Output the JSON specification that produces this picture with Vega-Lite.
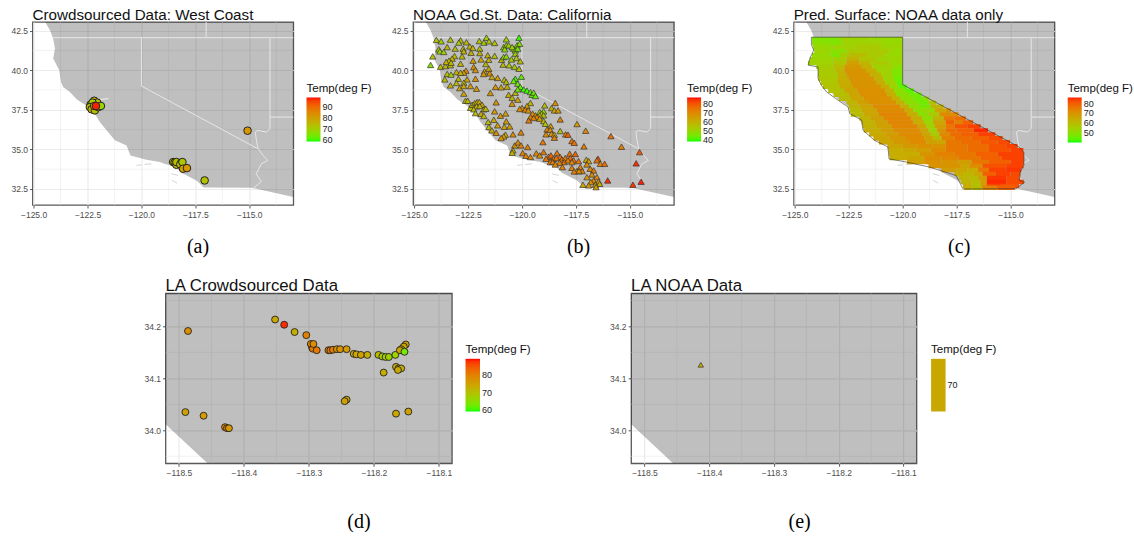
{
"$schema":"https://vega.github.io/schema/vega-lite/v6.json",
"padding":{"left":9.5,"top":7,"right":0,"bottom":0},
"background":"white",
"bounds":"flush",
"spacing":271.3,
"config":{
"font":"Liberation Sans",
"view":{"stroke":"#595959","strokeWidth":1.3},
"title":{"anchor":"start","frame":"group","font":"Liberation Sans","fontSize":15.2,"fontWeight":"normal","color":"#111111","offset":-1},
"axis":{"domain":false,"grid":true,"gridColor":"#EBEBEB","gridWidth":1.2,"tickColor":"#333333","tickSize":3,"tickWidth":0.8,"labelFont":"Liberation Sans","labelFontSize":8.5,"labelColor":"#4D4D4D","labelOverlap":false,"labelFlush":false,"labelPadding":2,"titleFont":"Liberation Serif","titleFontSize":20,"titleFontWeight":"normal","titleColor":"#000000","titleBaseline":"middle","titleAlign":"center"},
"legend":{"titleFont":"Liberation Sans","titleFontSize":11.5,"titleFontWeight":"normal","titleColor":"#111111","titlePadding":3,"labelFont":"Liberation Sans","labelFontSize":9,"labelColor":"#222222","labelOverlap":false,"padding":0,"gradientStrokeWidth":0,"labelOffset":8}
},
"datasets":{
"minorXW":[{"lon":-123.75},{"lon":-121.25},{"lon":-118.75},{"lon":-116.25},{"lon":-113.75}],
"minorYW":[{"lat":33.75},{"lat":36.25},{"lat":38.75},{"lat":41.25}],
"minorXL":[{"lon":-118.45},{"lon":-118.35},{"lon":-118.25},{"lon":-118.15}],
"minorYL":[{"lat":34.25},{"lat":34.15},{"lat":34.05},{"lat":33.95}],
"coast":[{"lon":-124.48,"lat":43.4},{"lon":-124.48,"lat":43.08},{"lon":-124.24,"lat":42.52},{"lon":-124.09,"lat":41.99},{"lon":-124.01,"lat":41.36},{"lon":-124.09,"lat":40.73},{"lon":-123.81,"lat":39.99},{"lon":-123.73,"lat":39.25},{"lon":-123.63,"lat":38.94},{"lon":-123.32,"lat":38.62},{"lon":-122.98,"lat":38.14},{"lon":-122.58,"lat":37.78},{"lon":-122.31,"lat":37.46},{"lon":-122.16,"lat":37.25},{"lon":-121.93,"lat":36.73},{"lon":-121.62,"lat":36.2},{"lon":-121.23,"lat":35.57},{"lon":-120.69,"lat":35.25},{"lon":-120.51,"lat":34.62},{"lon":-119.77,"lat":34.35},{"lon":-119.15,"lat":34.2},{"lon":-118.84,"lat":34.05},{"lon":-118.52,"lat":34.011},{"lon":-118.456,"lat":33.9365},{"lon":-118.15,"lat":33.53},{"lon":-117.45,"lat":33.04},{"lon":-117.11,"lat":32.6},{"lon":-114.91,"lat":32.58},{"lon":-112.96,"lat":31.99},{"lon":-112.5,"lat":31.9}],
"borders":[
{"s":1,"o":1,"lon":-124.09,"lat":42.05},{"s":1,"o":2,"lon":-112.5,"lat":42.05},
{"s":2,"o":1,"lon":-117,"lat":43.2},{"s":2,"o":2,"lon":-117,"lat":42.05},
{"s":3,"o":1,"lon":-120,"lat":42.05},{"s":3,"o":2,"lon":-120,"lat":39},{"s":3,"o":3,"lon":-114.62,"lat":35.05},
{"s":4,"o":1,"lon":-114.04,"lat":42.05},{"s":4,"o":2,"lon":-114.04,"lat":36.31},
{"s":5,"o":1,"lon":-114.04,"lat":37.04},{"s":5,"o":2,"lon":-112.5,"lat":37.04},
{"s":6,"o":1,"lon":-114.04,"lat":36.31},{"s":6,"o":2,"lon":-114.21,"lat":36.09},{"s":6,"o":3,"lon":-114.6,"lat":36.2},{"s":6,"o":4,"lon":-114.72,"lat":36.09},{"s":6,"o":5,"lon":-114.68,"lat":35.67},{"s":6,"o":6,"lon":-114.6,"lat":35.08},{"s":6,"o":7,"lon":-114.37,"lat":34.62},{"s":6,"o":8,"lon":-114.14,"lat":34.31},{"s":6,"o":9,"lon":-114.44,"lat":34.09},{"s":6,"o":10,"lon":-114.68,"lat":33.46},{"s":6,"o":11,"lon":-114.44,"lat":32.98},{"s":6,"o":12,"lon":-114.83,"lat":32.52}],
"islands":[
{"s":1,"o":1,"lon":-120.23,"lat":33.99},{"s":1,"o":2,"lon":-120,"lat":34.03},
{"s":2,"o":1,"lon":-119.85,"lat":34.05},{"s":2,"o":2,"lon":-119.54,"lat":34.09},
{"s":3,"o":1,"lon":-118.61,"lat":33.46},{"s":3,"o":2,"lon":-118.3,"lat":33.36},
{"s":4,"o":1,"lon":-118.58,"lat":33.04},{"s":4,"o":2,"lon":-118.35,"lat":32.87}],
"bay":[{"o":1,"lon":-122,"lat":38.14},{"o":2,"lon":-121.54,"lat":38.2}],
"caOutline":[{"o":1,"lon":-124.23,"lat":42.08},{"o":2,"lon":-120,"lat":42.08},{"o":3,"lon":-120,"lat":39.09},{"o":4,"lon":-114.6,"lat":35.15},{"o":5,"lon":-114.38,"lat":34.8},{"o":6,"lon":-114.38,"lat":34},{"o":7,"lon":-114.55,"lat":33.57},{"o":8,"lon":-114.58,"lat":33.04},{"o":9,"lon":-114.35,"lat":32.93},{"o":10,"lon":-114.74,"lat":32.52},{"o":11,"lon":-117.2,"lat":32.5},{"o":12,"lon":-117.52,"lat":33.35},{"o":13,"lon":-118.75,"lat":33.88},{"o":14,"lon":-119.83,"lat":34.2},{"o":15,"lon":-120.63,"lat":34.4},{"o":16,"lon":-120.68,"lat":35.15},{"o":17,"lon":-121.3,"lat":35.57},{"o":18,"lon":-121.83,"lat":36.2},{"o":19,"lon":-121.9,"lat":36.85},{"o":20,"lon":-122.45,"lat":37.26},{"o":21,"lon":-122.53,"lat":37.68},{"o":22,"lon":-122.99,"lat":38.1},{"o":23,"lon":-123.53,"lat":38.63},{"o":24,"lon":-123.77,"lat":39.05},{"o":25,"lon":-123.92,"lat":39.47},{"o":26,"lon":-123.92,"lat":40.2},{"o":27,"lon":-124.38,"lat":40.32},{"o":28,"lon":-124.3,"lat":40.74},{"o":29,"lon":-124.12,"lat":41.27},{"o":30,"lon":-124.23,"lat":41.6},{"o":31,"lon":-124.23,"lat":42.08}],
"crowdWest":[{"lon":-122.19,"lat":38.07,"t":76},{"lon":-122.05,"lat":37.95,"t":74},{"lon":-122.36,"lat":37.82,"t":74},{"lon":-122.27,"lat":37.95,"t":72},{"lon":-122.39,"lat":37.67,"t":74},{"lon":-122.31,"lat":37.53,"t":76},{"lon":-122.16,"lat":37.46,"t":74},{"lon":-122.19,"lat":37.74,"t":74},{"lon":-122,"lat":37.67,"t":74},{"lon":-121.88,"lat":37.74,"t":68},{"lon":-122.11,"lat":37.74,"t":98},{"lon":-118.53,"lat":34.2,"t":75},{"lon":-118.46,"lat":34.16,"t":76},{"lon":-118.38,"lat":34.03,"t":76},{"lon":-118.38,"lat":34.2,"t":74},{"lon":-118.15,"lat":34.16,"t":73},{"lon":-118.2,"lat":34.05,"t":74},{"lon":-118.1,"lat":34.2,"t":72},{"lon":-118.07,"lat":33.78,"t":80},{"lon":-117.89,"lat":33.82,"t":82},{"lon":-117.07,"lat":33.04,"t":73},{"lon":-115.08,"lat":36.18,"t":82}],
"noaaCA":[{"lon":-123.97,"lat":41.91,"t":55},{"lon":-123.75,"lat":41.82,"t":52},{"lon":-123.32,"lat":41.93,"t":55},{"lon":-122.85,"lat":41.88,"t":57},{"lon":-122.93,"lat":41.74,"t":55},{"lon":-122.58,"lat":41.76,"t":58},{"lon":-121.98,"lat":41.84,"t":55},{"lon":-121.65,"lat":42.05,"t":52},{"lon":-121.77,"lat":41.74,"t":53},{"lon":-121.53,"lat":41.82,"t":55},{"lon":-121.27,"lat":41.72,"t":55},{"lon":-120.73,"lat":41.95,"t":52},{"lon":-120.14,"lat":42.05,"t":40},
{"lon":-123.86,"lat":41.32,"t":55},{"lon":-123.81,"lat":41.19,"t":50},{"lon":-123.47,"lat":41.46,"t":58},{"lon":-123.63,"lat":41.15,"t":52},{"lon":-123.1,"lat":41.36,"t":57},{"lon":-122.73,"lat":41.36,"t":58},{"lon":-122.42,"lat":41.5,"t":60},{"lon":-122.28,"lat":41.4,"t":58},{"lon":-121.96,"lat":41.36,"t":56},{"lon":-122.7,"lat":41.19,"t":60},{"lon":-122.36,"lat":41.1,"t":60},{"lon":-121.96,"lat":41.08,"t":60},{"lon":-121.59,"lat":40.94,"t":60},{"lon":-121.27,"lat":40.9,"t":55},{"lon":-120.85,"lat":41.46,"t":50},{"lon":-120.73,"lat":41.57,"t":50},{"lon":-120.8,"lat":41.32,"t":48},{"lon":-120.62,"lat":41.57,"t":52},{"lon":-120.39,"lat":41.36,"t":52},{"lon":-120.23,"lat":41.57,"t":50},{"lon":-120.11,"lat":41.67,"t":48},{"lon":-120.46,"lat":41.46,"t":50},{"lon":-120.31,"lat":41.25,"t":48},{"lon":-120.2,"lat":41.36,"t":45},{"lon":-120.31,"lat":41.04,"t":52},
{"lon":-124.14,"lat":40.87,"t":55},{"lon":-124.24,"lat":40.33,"t":48},{"lon":-123.78,"lat":40.22,"t":57},{"lon":-123.55,"lat":40.26,"t":58},{"lon":-123.32,"lat":40.31,"t":57},{"lon":-123.13,"lat":40.89,"t":57},{"lon":-123.24,"lat":40.73,"t":60},{"lon":-123.39,"lat":40.6,"t":58},{"lon":-123.52,"lat":40.52,"t":60},{"lon":-123.29,"lat":40.47,"t":58},{"lon":-122.85,"lat":40.41,"t":60},{"lon":-122.78,"lat":40.87,"t":58},{"lon":-122.27,"lat":40.6,"t":66},{"lon":-121.9,"lat":40.68,"t":62},{"lon":-121.54,"lat":40.66,"t":60},{"lon":-121.68,"lat":40.39,"t":58},{"lon":-120.95,"lat":40.66,"t":58},{"lon":-120.85,"lat":40.83,"t":50},{"lon":-120.73,"lat":40.87,"t":48},{"lon":-120.49,"lat":40.68,"t":52},{"lon":-120.26,"lat":40.77,"t":55},{"lon":-120.08,"lat":40.56,"t":57},{"lon":-120.88,"lat":40.35,"t":58},{"lon":-120.6,"lat":40.31,"t":55},{"lon":-120.35,"lat":40.22,"t":52},{"lon":-120.14,"lat":40.09,"t":57},
{"lon":-122.24,"lat":40.2,"t":68},{"lon":-122.16,"lat":40.01,"t":68},{"lon":-122.6,"lat":39.97,"t":70},{"lon":-122.7,"lat":39.84,"t":66},{"lon":-121.74,"lat":39.93,"t":65},{"lon":-121.54,"lat":40.09,"t":62},{"lon":-121.78,"lat":39.76,"t":66},{"lon":-121.5,"lat":39.8,"t":68},
{"lon":-123.47,"lat":39.76,"t":57},{"lon":-123.29,"lat":39.72,"t":52},{"lon":-123.04,"lat":39.88,"t":60},{"lon":-122.85,"lat":39.84,"t":60},{"lon":-123.58,"lat":39.42,"t":57},{"lon":-122.95,"lat":39.46,"t":58},{"lon":-122.55,"lat":39.42,"t":62},{"lon":-122.16,"lat":39.46,"t":68},{"lon":-121.13,"lat":39.51,"t":65},{"lon":-121.39,"lat":39.57,"t":62},{"lon":-120.82,"lat":39.4,"t":58},{"lon":-120.73,"lat":39.25,"t":56},{"lon":-120.03,"lat":39.59,"t":43},{"lon":-120.31,"lat":39.46,"t":40},{"lon":-120.39,"lat":39.32,"t":44},
{"lon":-123.32,"lat":39.04,"t":60},{"lon":-123.04,"lat":39.19,"t":58},{"lon":-122.7,"lat":39.21,"t":60},{"lon":-122.89,"lat":38.87,"t":63},{"lon":-122.7,"lat":39,"t":62},{"lon":-122.39,"lat":39,"t":65},{"lon":-122.11,"lat":38.83,"t":67},{"lon":-122.7,"lat":38.52,"t":62},{"lon":-121.47,"lat":38.56,"t":67},{"lon":-121.23,"lat":38.94,"t":68},{"lon":-120.97,"lat":38.92,"t":64},{"lon":-120.69,"lat":38.96,"t":60},{"lon":-120.2,"lat":39.15,"t":44},{"lon":-120.08,"lat":38.94,"t":42},{"lon":-119.92,"lat":38.79,"t":40},{"lon":-119.77,"lat":38.71,"t":40},{"lon":-119.61,"lat":38.62,"t":42},{"lon":-119.54,"lat":38.45,"t":44},{"lon":-119.46,"lat":38.58,"t":45},{"lon":-119.38,"lat":38.37,"t":42},{"lon":-120.62,"lat":38.45,"t":62},{"lon":-120.31,"lat":38.58,"t":58},{"lon":-120.2,"lat":38.79,"t":45},{"lon":-120.46,"lat":38.26,"t":60},
{"lon":-122.62,"lat":38.07,"t":56},{"lon":-122.52,"lat":38.07,"t":58},{"lon":-122.39,"lat":37.63,"t":55},{"lon":-122.31,"lat":37.82,"t":60},{"lon":-122.19,"lat":37.93,"t":60},{"lon":-122.08,"lat":37.99,"t":58},{"lon":-121.98,"lat":37.99,"t":62},{"lon":-121.85,"lat":37.82,"t":62},{"lon":-122.11,"lat":37.72,"t":60},{"lon":-121.96,"lat":37.74,"t":60},{"lon":-121.77,"lat":37.53,"t":60},{"lon":-121.68,"lat":37.57,"t":58},{"lon":-122.24,"lat":37.53,"t":58},{"lon":-122.16,"lat":37.29,"t":58},{"lon":-121.9,"lat":37.25,"t":62},{"lon":-121.77,"lat":37.11,"t":58},{"lon":-121.27,"lat":37.4,"t":66},{"lon":-121,"lat":37.13,"t":68},{"lon":-120.76,"lat":37.27,"t":65},{"lon":-121.2,"lat":37.97,"t":68},{"lon":-120.46,"lat":37.88,"t":68},{"lon":-120.2,"lat":38.14,"t":63},{"lon":-119.61,"lat":37.93,"t":58},{"lon":-119.77,"lat":37.74,"t":65},{"lon":-120,"lat":37.61,"t":68},{"lon":-119.85,"lat":37.51,"t":72},{"lon":-120.11,"lat":37.55,"t":70},{"lon":-119.71,"lat":37.46,"t":68},{"lon":-118.95,"lat":37.78,"t":56},{"lon":-118.46,"lat":37.93,"t":70},{"lon":-118.63,"lat":37.61,"t":60},{"lon":-118.5,"lat":37.46,"t":62},{"lon":-118.33,"lat":37.46,"t":66},
{"lon":-119.51,"lat":37.25,"t":68},{"lon":-119.38,"lat":37.15,"t":70},{"lon":-119.61,"lat":37.04,"t":70},{"lon":-119.69,"lat":36.83,"t":74},{"lon":-119.18,"lat":37.36,"t":52},{"lon":-119,"lat":37.4,"t":50},{"lon":-119.1,"lat":37.25,"t":52},{"lon":-119,"lat":37.15,"t":55},{"lon":-119.18,"lat":37.15,"t":62},{"lon":-119.31,"lat":37.04,"t":72},{"lon":-119.46,"lat":36.98,"t":72},{"lon":-119.18,"lat":36.94,"t":65},{"lon":-119,"lat":36.79,"t":58},{"lon":-118.92,"lat":36.62,"t":55},{"lon":-118.23,"lat":36.89,"t":72},{"lon":-117.45,"lat":36.6,"t":66},
{"lon":-121.57,"lat":36.73,"t":57},{"lon":-121.54,"lat":36.41,"t":58},{"lon":-121.13,"lat":36.52,"t":65},{"lon":-120.82,"lat":36.43,"t":63},{"lon":-120.57,"lat":36.45,"t":66},{"lon":-120.73,"lat":36.77,"t":66},{"lon":-121.31,"lat":36.87,"t":62},{"lon":-121.4,"lat":36.2,"t":60},{"lon":-121.2,"lat":36.05,"t":70},{"lon":-120.77,"lat":35.93,"t":62},{"lon":-120.85,"lat":35.82,"t":66},{"lon":-120.42,"lat":35.95,"t":70},{"lon":-120.05,"lat":36.07,"t":72},{"lon":-120.97,"lat":35.72,"t":68},{"lon":-118.67,"lat":36.47,"t":66},{"lon":-118.84,"lat":36.26,"t":70},{"lon":-118.69,"lat":36.24,"t":70},{"lon":-118.89,"lat":35.95,"t":70},{"lon":-118.63,"lat":35.99,"t":68},{"lon":-118.5,"lat":35.93,"t":62},{"lon":-118.5,"lat":35.74,"t":72},{"lon":-118.23,"lat":36.16,"t":55},{"lon":-117.98,"lat":35.95,"t":74},{"lon":-117.87,"lat":35.93,"t":78},{"lon":-117.05,"lat":36.18,"t":70},{"lon":-115.88,"lat":35.84,"t":76},{"lon":-115.39,"lat":35.17,"t":72},{"lon":-114.55,"lat":34.83,"t":80},{"lon":-119.03,"lat":35.46,"t":74},{"lon":-117.69,"lat":35.53,"t":75},{"lon":-117.58,"lat":35.42,"t":75},{"lon":-117.13,"lat":35.19,"t":73},
{"lon":-120.34,"lat":35.25,"t":68},{"lon":-120.19,"lat":35.44,"t":70},{"lon":-120.05,"lat":35.25,"t":72},{"lon":-119.74,"lat":35.15,"t":72},{"lon":-120.42,"lat":34.94,"t":60},{"lon":-120.46,"lat":34.79,"t":60},{"lon":-119.97,"lat":34.77,"t":72},{"lon":-119.82,"lat":34.6,"t":72},{"lon":-119.61,"lat":34.52,"t":70},{"lon":-119.34,"lat":34.75,"t":70},{"lon":-119.18,"lat":34.62,"t":68},{"lon":-119,"lat":34.83,"t":74},
{"lon":-118.77,"lat":34.54,"t":74},{"lon":-118.66,"lat":34.62,"t":78},{"lon":-118.53,"lat":34.41,"t":72},{"lon":-118.89,"lat":34.41,"t":74},{"lon":-118.69,"lat":34.2,"t":72},{"lon":-118.58,"lat":34.2,"t":74},{"lon":-118.38,"lat":34.77,"t":74},{"lon":-118.23,"lat":34.52,"t":76},{"lon":-118.41,"lat":34.45,"t":74},{"lon":-118.15,"lat":34.37,"t":74},{"lon":-118,"lat":34.45,"t":73},{"lon":-118.04,"lat":34.2,"t":76},{"lon":-118.26,"lat":34.16,"t":72},{"lon":-118.46,"lat":34.05,"t":70},{"lon":-118.13,"lat":33.88,"t":72},{"lon":-117.79,"lat":34.73,"t":74},{"lon":-117.53,"lat":34.71,"t":78},{"lon":-117.76,"lat":34.45,"t":76},{"lon":-117.61,"lat":34.31,"t":76},{"lon":-117.87,"lat":34.31,"t":72},{"lon":-117.69,"lat":34.2,"t":70},{"lon":-117.38,"lat":34.26,"t":74},{"lon":-117.69,"lat":33.84,"t":72},{"lon":-117.45,"lat":33.63,"t":70},{"lon":-117.58,"lat":33.61,"t":72},{"lon":-117.3,"lat":33.88,"t":72},{"lon":-117.21,"lat":33.63,"t":72},{"lon":-117.36,"lat":33.63,"t":70},{"lon":-117.02,"lat":34.35,"t":62},{"lon":-116.91,"lat":34.26,"t":65},{"lon":-116.48,"lat":34.41,"t":80},{"lon":-116.53,"lat":34.31,"t":74},{"lon":-116.37,"lat":34.09,"t":72},{"lon":-116.17,"lat":34.09,"t":76},{"lon":-116.99,"lat":34.05,"t":68},{"lon":-116.84,"lat":33.78,"t":70},{"lon":-116.68,"lat":33.67,"t":72},{"lon":-116.76,"lat":33.42,"t":70},{"lon":-116.99,"lat":33.25,"t":66},{"lon":-116.53,"lat":33.25,"t":70},{"lon":-116.68,"lat":33.04,"t":72},{"lon":-116.45,"lat":32.98,"t":68},{"lon":-116.81,"lat":32.94,"t":68},{"lon":-116.4,"lat":32.83,"t":60},{"lon":-116.6,"lat":32.77,"t":65},{"lon":-116.91,"lat":32.73,"t":66},{"lon":-117.18,"lat":32.77,"t":62},{"lon":-116.57,"lat":32.62,"t":66},{"lon":-116.03,"lat":33.04,"t":85},{"lon":-114.86,"lat":32.77,"t":84},{"lon":-114.48,"lat":32.96,"t":86},{"lon":-114.71,"lat":34.12,"t":85}],
"surface":[
{"a":-124.2,"b":-122.9,"lat":41.95,"t":48},{"a":-122.9,"b":-121.5,"lat":41.95,"t":53},{"a":-121.5,"b":-120,"lat":41.95,"t":52},
{"a":-124.2,"b":-123.4,"lat":41.7,"t":50},{"a":-123.4,"b":-122.8,"lat":41.7,"t":49},{"a":-122.8,"b":-121,"lat":41.7,"t":54},{"a":-121,"b":-120,"lat":41.7,"t":52},
{"a":-124.15,"b":-123.2,"lat":41.45,"t":52},{"a":-123.2,"b":-122.2,"lat":41.45,"t":54},{"a":-122.2,"b":-121,"lat":41.45,"t":56},{"a":-121,"b":-120,"lat":41.45,"t":53},
{"a":-124.1,"b":-123.4,"lat":41.2,"t":53},{"a":-123.4,"b":-122.6,"lat":41.2,"t":50},{"a":-122.6,"b":-120.6,"lat":41.2,"t":56},{"a":-120.6,"b":-120,"lat":41.2,"t":52},
{"a":-124.2,"b":-123.3,"lat":40.95,"t":52},{"a":-123.3,"b":-122.9,"lat":40.95,"t":48},{"a":-122.9,"b":-122.5,"lat":40.95,"t":55},{"a":-122.5,"b":-121.7,"lat":40.95,"t":60},{"a":-121.7,"b":-120.8,"lat":40.95,"t":56},{"a":-120.8,"b":-120,"lat":40.95,"t":52},
{"a":-124.3,"b":-123.2,"lat":40.7,"t":53},{"a":-123.2,"b":-122.6,"lat":40.7,"t":55},{"a":-122.6,"b":-122,"lat":40.7,"t":63},{"a":-122,"b":-121.2,"lat":40.7,"t":57},{"a":-121.2,"b":-120,"lat":40.7,"t":53},
{"a":-124.38,"b":-123.2,"lat":40.45,"t":54},{"a":-123.2,"b":-122.6,"lat":40.45,"t":57},{"a":-122.6,"b":-122,"lat":40.45,"t":67},{"a":-122,"b":-121.5,"lat":40.45,"t":62},{"a":-121.5,"b":-120.6,"lat":40.45,"t":56},{"a":-120.6,"b":-120,"lat":40.45,"t":52},
{"a":-124,"b":-123.2,"lat":40.2,"t":55},{"a":-123.2,"b":-122.7,"lat":40.2,"t":60},{"a":-122.7,"b":-121.9,"lat":40.2,"t":69},{"a":-121.9,"b":-121.4,"lat":40.2,"t":63},{"a":-121.4,"b":-120.4,"lat":40.2,"t":54},{"a":-120.4,"b":-120,"lat":40.2,"t":50},
{"a":-123.92,"b":-123.1,"lat":39.95,"t":56},{"a":-123.1,"b":-122.7,"lat":39.95,"t":62},{"a":-122.7,"b":-121.7,"lat":39.95,"t":70},{"a":-121.7,"b":-121.2,"lat":39.95,"t":64},{"a":-121.2,"b":-120.5,"lat":39.95,"t":54},{"a":-120.5,"b":-120,"lat":39.95,"t":48},
{"a":-123.92,"b":-123,"lat":39.7,"t":56},{"a":-123,"b":-122.6,"lat":39.7,"t":63},{"a":-122.6,"b":-121.5,"lat":39.7,"t":70},{"a":-121.5,"b":-121,"lat":39.7,"t":63},{"a":-121,"b":-120.5,"lat":39.7,"t":54},{"a":-120.5,"b":-120,"lat":39.7,"t":48},
{"a":-123.9,"b":-123,"lat":39.45,"t":57},{"a":-123,"b":-122.5,"lat":39.45,"t":64},{"a":-122.5,"b":-121.3,"lat":39.45,"t":70},{"a":-121.3,"b":-120.9,"lat":39.45,"t":63},{"a":-120.9,"b":-120.4,"lat":39.45,"t":53},{"a":-120.4,"b":-120,"lat":39.45,"t":46},
{"a":-123.8,"b":-123,"lat":39.2,"t":57},{"a":-123,"b":-122.4,"lat":39.2,"t":64},{"a":-122.4,"b":-121.2,"lat":39.2,"t":70},{"a":-121.2,"b":-120.8,"lat":39.2,"t":64},{"a":-120.8,"b":-120.3,"lat":39.2,"t":54},{"a":-120.3,"b":-120,"lat":39.2,"t":45},
{"a":-123.7,"b":-122.9,"lat":38.95,"t":58},{"a":-122.9,"b":-122.3,"lat":38.95,"t":65},{"a":-122.3,"b":-121,"lat":38.95,"t":70},{"a":-121,"b":-120.6,"lat":38.95,"t":64},{"a":-120.6,"b":-120.2,"lat":38.95,"t":52},{"a":-120.2,"b":-119.8,"lat":38.95,"t":44},
{"a":-123.45,"b":-122.7,"lat":38.7,"t":58},{"a":-122.7,"b":-122.1,"lat":38.7,"t":66},{"a":-122.1,"b":-120.8,"lat":38.7,"t":71},{"a":-120.8,"b":-120.4,"lat":38.7,"t":63},{"a":-120.4,"b":-119.9,"lat":38.7,"t":50},{"a":-119.9,"b":-119.47,"lat":38.7,"t":44},
{"a":-123.2,"b":-122.5,"lat":38.45,"t":59},{"a":-122.5,"b":-122,"lat":38.45,"t":66},{"a":-122,"b":-120.7,"lat":38.45,"t":71},{"a":-120.7,"b":-120.3,"lat":38.45,"t":63},{"a":-120.3,"b":-119.7,"lat":38.45,"t":50},{"a":-119.7,"b":-119.12,"lat":38.45,"t":46},
{"a":-122.95,"b":-122.4,"lat":38.2,"t":60},{"a":-122.4,"b":-121.8,"lat":38.2,"t":66},{"a":-121.8,"b":-120.5,"lat":38.2,"t":71},{"a":-120.5,"b":-120.1,"lat":38.2,"t":63},{"a":-120.1,"b":-119.5,"lat":38.2,"t":50},{"a":-119.5,"b":-119,"lat":38.2,"t":46},{"a":-119,"b":-118.78,"lat":38.2,"t":52},
{"a":-122.6,"b":-122.1,"lat":37.95,"t":62},{"a":-122.1,"b":-121.6,"lat":37.95,"t":67},{"a":-121.6,"b":-120.3,"lat":37.95,"t":71},{"a":-120.3,"b":-119.9,"lat":37.95,"t":63},{"a":-119.9,"b":-119.3,"lat":37.95,"t":50},{"a":-119.3,"b":-118.8,"lat":37.95,"t":46},{"a":-118.8,"b":-118.44,"lat":37.95,"t":58},
{"a":-122.5,"b":-122,"lat":37.7,"t":62},{"a":-122,"b":-121.4,"lat":37.7,"t":66},{"a":-121.4,"b":-120.1,"lat":37.7,"t":72},{"a":-120.1,"b":-119.7,"lat":37.7,"t":63},{"a":-119.7,"b":-119.2,"lat":37.7,"t":50},{"a":-119.2,"b":-118.7,"lat":37.7,"t":47},{"a":-118.7,"b":-118.1,"lat":37.7,"t":62},
{"a":-122.45,"b":-121.9,"lat":37.45,"t":60},{"a":-121.9,"b":-121.2,"lat":37.45,"t":66},{"a":-121.2,"b":-119.9,"lat":37.45,"t":72},{"a":-119.9,"b":-119.5,"lat":37.45,"t":64},{"a":-119.5,"b":-119,"lat":37.45,"t":50},{"a":-119,"b":-118.5,"lat":37.45,"t":52},{"a":-118.5,"b":-118,"lat":37.45,"t":66},{"a":-118,"b":-117.75,"lat":37.45,"t":70},
{"a":-122.4,"b":-121.8,"lat":37.2,"t":60},{"a":-121.8,"b":-121.1,"lat":37.2,"t":66},{"a":-121.1,"b":-119.8,"lat":37.2,"t":73},{"a":-119.8,"b":-119.3,"lat":37.2,"t":64},{"a":-119.3,"b":-118.8,"lat":37.2,"t":50},{"a":-118.8,"b":-118.3,"lat":37.2,"t":56},{"a":-118.3,"b":-117.41,"lat":37.2,"t":72},
{"a":-122,"b":-121.5,"lat":36.95,"t":62},{"a":-121.5,"b":-120.9,"lat":36.95,"t":67},{"a":-120.9,"b":-119.6,"lat":36.95,"t":73},{"a":-119.6,"b":-119.1,"lat":36.95,"t":64},{"a":-119.1,"b":-118.6,"lat":36.95,"t":50},{"a":-118.6,"b":-118.1,"lat":36.95,"t":62},{"a":-118.1,"b":-117.6,"lat":36.95,"t":76},{"a":-117.6,"b":-117.07,"lat":36.95,"t":78},
{"a":-121.9,"b":-121.3,"lat":36.7,"t":62},{"a":-121.3,"b":-120.7,"lat":36.7,"t":67},{"a":-120.7,"b":-119.5,"lat":36.7,"t":73},{"a":-119.5,"b":-119,"lat":36.7,"t":64},{"a":-119,"b":-118.6,"lat":36.7,"t":52},{"a":-118.6,"b":-118,"lat":36.7,"t":66},{"a":-118,"b":-117.6,"lat":36.7,"t":80},{"a":-117.6,"b":-117.2,"lat":36.7,"t":74},{"a":-117.2,"b":-116.73,"lat":36.7,"t":80},
{"a":-121.85,"b":-121.2,"lat":36.45,"t":63},{"a":-121.2,"b":-120.5,"lat":36.45,"t":67},{"a":-120.5,"b":-119.3,"lat":36.45,"t":73},{"a":-119.3,"b":-118.9,"lat":36.45,"t":66},{"a":-118.9,"b":-118.5,"lat":36.45,"t":54},{"a":-118.5,"b":-118,"lat":36.45,"t":68},{"a":-118,"b":-117.6,"lat":36.45,"t":76},{"a":-117.6,"b":-117,"lat":36.45,"t":82},{"a":-117,"b":-116.38,"lat":36.45,"t":84},
{"a":-121.8,"b":-121,"lat":36.2,"t":64},{"a":-121,"b":-120.4,"lat":36.2,"t":68},{"a":-120.4,"b":-119.2,"lat":36.2,"t":72},{"a":-119.2,"b":-118.8,"lat":36.2,"t":66},{"a":-118.8,"b":-118.4,"lat":36.2,"t":54},{"a":-118.4,"b":-118,"lat":36.2,"t":70},{"a":-118,"b":-117.5,"lat":36.2,"t":78},{"a":-117.5,"b":-116.7,"lat":36.2,"t":80},{"a":-116.7,"b":-116.04,"lat":36.2,"t":86},
{"a":-121.55,"b":-120.8,"lat":35.95,"t":65},{"a":-120.8,"b":-120.2,"lat":35.95,"t":68},{"a":-120.2,"b":-119.1,"lat":35.95,"t":72},{"a":-119.1,"b":-118.7,"lat":35.95,"t":66},{"a":-118.7,"b":-118.3,"lat":35.95,"t":56},{"a":-118.3,"b":-117.8,"lat":35.95,"t":72},{"a":-117.8,"b":-117.3,"lat":35.95,"t":78},{"a":-117.3,"b":-116.5,"lat":35.95,"t":80},{"a":-116.5,"b":-115.7,"lat":35.95,"t":84},
{"a":-121.35,"b":-120.6,"lat":35.7,"t":66},{"a":-120.6,"b":-119.9,"lat":35.7,"t":69},{"a":-119.9,"b":-119,"lat":35.7,"t":72},{"a":-119,"b":-118.6,"lat":35.7,"t":67},{"a":-118.6,"b":-118.2,"lat":35.7,"t":60},{"a":-118.2,"b":-117.6,"lat":35.7,"t":74},{"a":-117.6,"b":-116.8,"lat":35.7,"t":78},{"a":-116.8,"b":-116,"lat":35.7,"t":80},{"a":-116,"b":-115.36,"lat":35.7,"t":83},
{"a":-121.1,"b":-120.4,"lat":35.45,"t":66},{"a":-120.4,"b":-119.7,"lat":35.45,"t":69},{"a":-119.7,"b":-118.9,"lat":35.45,"t":72},{"a":-118.9,"b":-118.4,"lat":35.45,"t":67},{"a":-118.4,"b":-118,"lat":35.45,"t":66},{"a":-118,"b":-117.3,"lat":35.45,"t":76},{"a":-117.3,"b":-116.4,"lat":35.45,"t":78},{"a":-116.4,"b":-115.6,"lat":35.45,"t":81},{"a":-115.6,"b":-115.02,"lat":35.45,"t":83},
{"a":-120.7,"b":-120,"lat":35.2,"t":66},{"a":-120,"b":-119.3,"lat":35.2,"t":69},{"a":-119.3,"b":-118.6,"lat":35.2,"t":71},{"a":-118.6,"b":-118,"lat":35.2,"t":70},{"a":-118,"b":-117,"lat":35.2,"t":76},{"a":-117,"b":-116,"lat":35.2,"t":78},{"a":-116,"b":-115.2,"lat":35.2,"t":82},{"a":-115.2,"b":-114.67,"lat":35.2,"t":84},
{"a":-120.65,"b":-120,"lat":34.95,"t":64},{"a":-120,"b":-119.4,"lat":34.95,"t":65},{"a":-119.4,"b":-118.7,"lat":34.95,"t":68},{"a":-118.7,"b":-118,"lat":34.95,"t":72},{"a":-118,"b":-117,"lat":34.95,"t":76},{"a":-117,"b":-116,"lat":34.95,"t":78},{"a":-116,"b":-115,"lat":34.95,"t":82},{"a":-115,"b":-114.4,"lat":34.95,"t":84},
{"a":-120.63,"b":-119.2,"lat":34.7,"t":64},{"a":-119.2,"b":-118.5,"lat":34.7,"t":70},{"a":-118.5,"b":-117.6,"lat":34.7,"t":74},{"a":-117.6,"b":-116.6,"lat":34.7,"t":76},{"a":-116.6,"b":-115.6,"lat":34.7,"t":80},{"a":-115.6,"b":-114.38,"lat":34.7,"t":84},
{"a":-120.6,"b":-119.8,"lat":34.45,"t":64},{"a":-119.8,"b":-119,"lat":34.45,"t":66},{"a":-119,"b":-118.2,"lat":34.45,"t":72},{"a":-118.2,"b":-117.4,"lat":34.45,"t":73},{"a":-117.4,"b":-116.4,"lat":34.45,"t":76},{"a":-116.4,"b":-115.4,"lat":34.45,"t":80},{"a":-115.4,"b":-114.38,"lat":34.45,"t":84},
{"a":-119.8,"b":-119,"lat":34.2,"t":67},{"a":-119,"b":-118.2,"lat":34.2,"t":71},{"a":-118.2,"b":-117.4,"lat":34.2,"t":70},{"a":-117.4,"b":-116.8,"lat":34.2,"t":68},{"a":-116.8,"b":-116,"lat":34.2,"t":76},{"a":-116,"b":-115,"lat":34.2,"t":80},{"a":-115,"b":-114.38,"lat":34.2,"t":84},
{"a":-118.8,"b":-117.3,"lat":33.95,"t":70},{"a":-117.3,"b":-116.9,"lat":33.95,"t":66},{"a":-116.9,"b":-116.3,"lat":33.95,"t":72},{"a":-116.3,"b":-115.2,"lat":33.95,"t":82},{"a":-115.2,"b":-114.4,"lat":33.95,"t":84},
{"a":-118.2,"b":-117.5,"lat":33.7,"t":68},{"a":-117.5,"b":-117,"lat":33.7,"t":66},{"a":-117,"b":-116.5,"lat":33.7,"t":64},{"a":-116.5,"b":-116,"lat":33.7,"t":76},{"a":-116,"b":-115.2,"lat":33.7,"t":84},{"a":-115.2,"b":-114.5,"lat":33.7,"t":85},
{"a":-117.6,"b":-117.2,"lat":33.45,"t":64},{"a":-117.2,"b":-116.7,"lat":33.45,"t":62},{"a":-116.7,"b":-116.3,"lat":33.45,"t":66},{"a":-116.3,"b":-115.7,"lat":33.45,"t":80},{"a":-115.7,"b":-115,"lat":33.45,"t":84},{"a":-115,"b":-114.55,"lat":33.45,"t":83},
{"a":-117.4,"b":-116.9,"lat":33.2,"t":62},{"a":-116.9,"b":-116.5,"lat":33.2,"t":60},{"a":-116.5,"b":-116.1,"lat":33.2,"t":68},{"a":-116.1,"b":-115.2,"lat":33.2,"t":85},{"a":-115.2,"b":-114.58,"lat":33.2,"t":83},
{"a":-117.3,"b":-116.8,"lat":32.95,"t":62},{"a":-116.8,"b":-116.4,"lat":32.95,"t":60},{"a":-116.4,"b":-116.1,"lat":32.95,"t":68},{"a":-116.1,"b":-115.2,"lat":32.95,"t":86},{"a":-115.2,"b":-114.38,"lat":32.95,"t":83},
{"a":-117.2,"b":-116.8,"lat":32.7,"t":64},{"a":-116.8,"b":-116.4,"lat":32.7,"t":58},{"a":-116.4,"b":-116.1,"lat":32.7,"t":68},{"a":-116.1,"b":-115.4,"lat":32.7,"t":84},{"a":-115.4,"b":-114.6,"lat":32.7,"t":82},
{"a":-117.15,"b":-116.8,"lat":32.58,"t":64},{"a":-116.8,"b":-116.3,"lat":32.58,"t":60},{"a":-116.3,"b":-115.6,"lat":32.58,"t":74},{"a":-115.6,"b":-114.8,"lat":32.58,"t":80}],
"crowdLA":[{"lon":-118.486,"lat":34.191,"t":78},{"lon":-118.352,"lat":34.213,"t":74},{"lon":-118.338,"lat":34.203,"t":88},{"lon":-118.322,"lat":34.189,"t":73},{"lon":-118.304,"lat":34.183,"t":80},{"lon":-118.296,"lat":34.164,"t":79},{"lon":-118.295,"lat":34.159,"t":80},{"lon":-118.297,"lat":34.166,"t":80},{"lon":-118.294,"lat":34.157,"t":81},{"lon":-118.293,"lat":34.166,"t":78},{"lon":-118.288,"lat":34.154,"t":81},{"lon":-118.27,"lat":34.154,"t":80},{"lon":-118.267,"lat":34.154,"t":81},{"lon":-118.263,"lat":34.155,"t":80},{"lon":-118.257,"lat":34.156,"t":78},{"lon":-118.252,"lat":34.156,"t":77},{"lon":-118.242,"lat":34.156,"t":76},{"lon":-118.231,"lat":34.147,"t":75},{"lon":-118.227,"lat":34.146,"t":74},{"lon":-118.22,"lat":34.145,"t":75},{"lon":-118.21,"lat":34.145,"t":73},{"lon":-118.193,"lat":34.145,"t":71},{"lon":-118.187,"lat":34.142,"t":68},{"lon":-118.182,"lat":34.141,"t":68},{"lon":-118.177,"lat":34.141,"t":67},{"lon":-118.167,"lat":34.145,"t":67},{"lon":-118.151,"lat":34.165,"t":75},{"lon":-118.154,"lat":34.161,"t":74},{"lon":-118.158,"lat":34.156,"t":74},{"lon":-118.16,"lat":34.154,"t":75},{"lon":-118.153,"lat":34.151,"t":63},{"lon":-118.185,"lat":34.111,"t":73},{"lon":-118.166,"lat":34.122,"t":74},{"lon":-118.162,"lat":34.119,"t":74},{"lon":-118.158,"lat":34.119,"t":73},{"lon":-118.163,"lat":34.116,"t":74},{"lon":-118.242,"lat":34.059,"t":74},{"lon":-118.245,"lat":34.056,"t":75},{"lon":-118.166,"lat":34.032,"t":74},{"lon":-118.147,"lat":34.036,"t":75},{"lon":-118.49,"lat":34.035,"t":75},{"lon":-118.462,"lat":34.028,"t":76},{"lon":-118.429,"lat":34.006,"t":80},{"lon":-118.426,"lat":34.004,"t":80},{"lon":-118.423,"lat":34.004,"t":76}],
"noaaLA":[{"lon":-118.413,"lat":34.126,"t":70}]
},
"vconcat":[
{"bounds":"flush","spacing":119.6,"resolve":{"scale":{"fill":"independent"},"legend":{"fill":"independent"}},"hconcat":[
{"width":260.8,"height":183,"title":"Crowdsourced Data: West Coast","layer":[
{"data":{"name":"minorXW"},"mark":{"type":"rule","color":"#EBEBEB","strokeWidth":0.6,"clip":true},"encoding":{"x":{"field":"lon","type":"quantitative"}}},
{"data":{"name":"minorYW"},"mark":{"type":"rule","color":"#EBEBEB","strokeWidth":0.6,"clip":true},"encoding":{"y":{"field":"lat","type":"quantitative"}}},
{"data":{"name":"coast"},"mark":{"type":"area","orient":"horizontal","color":"#000000","opacity":0.25,"clip":true},"encoding":{"x":{"field":"lon","type":"quantitative","scale":{"domain":[-125.05,-112.96],"nice":false,"zero":false},"axis":{"values":[-125,-122.5,-120,-117.5,-115],"format":".1f","title":"(a)","titleX":165,"titleY":41}},"x2":{"datum":-112.5},"y":{"field":"lat","type":"quantitative","scale":{"domain":[31.49,43.04],"nice":false,"zero":false},"axis":{"values":[32.5,35,37.5,40,42.5],"format":".1f","title":null}}}},
{"data":{"name":"borders"},"mark":{"type":"line","color":"#E6E6E6","strokeWidth":1,"clip":true},"encoding":{"x":{"field":"lon","type":"quantitative"},"y":{"field":"lat","type":"quantitative"},"detail":{"field":"s"},"order":{"field":"o"}}},
{"data":{"name":"islands"},"mark":{"type":"line","color":"#D4D4D4","strokeWidth":1,"clip":true},"encoding":{"x":{"field":"lon","type":"quantitative"},"y":{"field":"lat","type":"quantitative"},"detail":{"field":"s"},"order":{"field":"o"}}},
{"data":{"name":"bay"},"mark":{"type":"line","color":"#F4F4F4","strokeWidth":1,"clip":true},"encoding":{"x":{"field":"lon","type":"quantitative"},"y":{"field":"lat","type":"quantitative"},"order":{"field":"o"}}},
{"data":{"name":"crowdWest"},"mark":{"type":"point","filled":true,"opacity":1,"stroke":"#222222","strokeWidth":1,"size":58},"encoding":{"x":{"field":"lon","type":"quantitative"},"y":{"field":"lat","type":"quantitative"},"fill":{"field":"t","type":"quantitative","scale":{"domain":[58.8,78.9,99],"range":["#00FF00","#CCA500","#FF0000"],"interpolate":"lab"},"legend":{"title":"Temp(deg F)","orient":"none","legendX":274,"legendY":61,"values":[60,70,80,90],"gradientLength":44,"gradientThickness":14,"direction":"vertical"}}}}
]},
{"width":260.8,"height":183,"title":"NOAA Gd.St. Data: California","layer":[
{"data":{"name":"minorXW"},"mark":{"type":"rule","color":"#EBEBEB","strokeWidth":0.6,"clip":true},"encoding":{"x":{"field":"lon","type":"quantitative"}}},
{"data":{"name":"minorYW"},"mark":{"type":"rule","color":"#EBEBEB","strokeWidth":0.6,"clip":true},"encoding":{"y":{"field":"lat","type":"quantitative"}}},
{"data":{"name":"coast"},"mark":{"type":"area","orient":"horizontal","color":"#000000","opacity":0.25,"clip":true},"encoding":{"x":{"field":"lon","type":"quantitative","scale":{"domain":[-125.05,-112.96],"nice":false,"zero":false},"axis":{"values":[-125,-122.5,-120,-117.5,-115],"format":".1f","title":"(b)","titleX":165,"titleY":41}},"x2":{"datum":-112.5},"y":{"field":"lat","type":"quantitative","scale":{"domain":[31.49,43.04],"nice":false,"zero":false},"axis":{"values":[32.5,35,37.5,40,42.5],"format":".1f","title":null}}}},
{"data":{"name":"borders"},"mark":{"type":"line","color":"#E6E6E6","strokeWidth":1,"clip":true},"encoding":{"x":{"field":"lon","type":"quantitative"},"y":{"field":"lat","type":"quantitative"},"detail":{"field":"s"},"order":{"field":"o"}}},
{"data":{"name":"islands"},"mark":{"type":"line","color":"#D4D4D4","strokeWidth":1,"clip":true},"encoding":{"x":{"field":"lon","type":"quantitative"},"y":{"field":"lat","type":"quantitative"},"detail":{"field":"s"},"order":{"field":"o"}}},
{"data":{"name":"noaaCA"},"mark":{"type":"point","shape":"triangle-up","filled":true,"opacity":1,"stroke":"#333333","strokeWidth":0.7,"size":40},"encoding":{"x":{"field":"lon","type":"quantitative"},"y":{"field":"lat","type":"quantitative"},"fill":{"field":"t","type":"quantitative","scale":{"domain":[38.5,62.75,87],"range":["#00FF00","#CCA500","#FF0000"],"interpolate":"lab"},"legend":{"title":"Temp(deg F)","orient":"none","legendX":274,"legendY":61,"values":[40,50,60,70,80],"gradientLength":44,"gradientThickness":14,"direction":"vertical"}}}}
]},
{"width":260.8,"height":183,"title":"Pred. Surface: NOAA data only","layer":[
{"data":{"name":"minorXW"},"mark":{"type":"rule","color":"#EBEBEB","strokeWidth":0.6,"clip":true},"encoding":{"x":{"field":"lon","type":"quantitative"}}},
{"data":{"name":"minorYW"},"mark":{"type":"rule","color":"#EBEBEB","strokeWidth":0.6,"clip":true},"encoding":{"y":{"field":"lat","type":"quantitative"}}},
{"data":{"name":"coast"},"mark":{"type":"area","orient":"horizontal","color":"#000000","opacity":0.25,"clip":true},"encoding":{"x":{"field":"lon","type":"quantitative","scale":{"domain":[-125.05,-112.96],"nice":false,"zero":false},"axis":{"values":[-125,-122.5,-120,-117.5,-115],"format":".1f","title":"(c)","titleX":165,"titleY":41}},"x2":{"datum":-112.5},"y":{"field":"lat","type":"quantitative","scale":{"domain":[31.49,43.04],"nice":false,"zero":false},"axis":{"values":[32.5,35,37.5,40,42.5],"format":".1f","title":null}}}},
{"data":{"name":"borders"},"mark":{"type":"line","color":"#E6E6E6","strokeWidth":1,"clip":true},"encoding":{"x":{"field":"lon","type":"quantitative"},"y":{"field":"lat","type":"quantitative"},"detail":{"field":"s"},"order":{"field":"o"}}},
{"data":{"name":"islands"},"mark":{"type":"line","color":"#D4D4D4","strokeWidth":1,"clip":true},"encoding":{"x":{"field":"lon","type":"quantitative"},"y":{"field":"lat","type":"quantitative"},"detail":{"field":"s"},"order":{"field":"o"}}},
{"data":{"name":"surface"},"mark":{"type":"rect","height":4.4,"clip":true},"encoding":{"x":{"field":"a","type":"quantitative"},"x2":{"field":"b"},"y":{"field":"lat","type":"quantitative"},"fill":{"field":"t","type":"quantitative","scale":{"domain":[40,66,86.5],"range":["#00FF00","#CCA500","#FF2000"],"interpolate":"lab"},"legend":{"title":"Temp(deg F)","orient":"none","legendX":274,"legendY":61,"values":[50,60,70,80],"gradientLength":45,"gradientThickness":14,"direction":"vertical"}}}},
{"data":{"name":"caOutline"},"mark":{"type":"line","color":"#333333","strokeWidth":0.6,"clip":true},"encoding":{"x":{"field":"lon","type":"quantitative"},"y":{"field":"lat","type":"quantitative"},"order":{"field":"o"}}}
]}
]},
{"bounds":"flush","spacing":0,"hconcat":[
{"width":132.3,"height":10,"view":{"stroke":null},"data":{"values":[{"v":0}]},"mark":{"type":"point","opacity":0},"encoding":{}},
{"bounds":"flush","spacing":178.6,"resolve":{"scale":{"fill":"independent"},"legend":{"fill":"independent"}},"hconcat":[
{"width":286.4,"height":170,"title":{"text":"LA Crowdsourced Data","fontSize":16.8},"layer":[
{"data":{"name":"minorXL"},"mark":{"type":"rule","color":"#EBEBEB","strokeWidth":0.6,"clip":true},"encoding":{"x":{"field":"lon","type":"quantitative"}}},
{"data":{"name":"minorYL"},"mark":{"type":"rule","color":"#EBEBEB","strokeWidth":0.6,"clip":true},"encoding":{"y":{"field":"lat","type":"quantitative"}}},
{"data":{"name":"coast"},"mark":{"type":"area","orient":"horizontal","color":"#000000","opacity":0.25,"clip":true},"encoding":{"x":{"field":"lon","type":"quantitative","scale":{"domain":[-118.5206,-118.08],"nice":false,"zero":false},"axis":{"values":[-118.5,-118.4,-118.3,-118.2,-118.1],"format":".1f","title":"(d)","titleX":193,"titleY":58}},"x2":{"datum":-112.5},"y":{"field":"lat","type":"quantitative","scale":{"domain":[33.9365,34.2635],"nice":false,"zero":false},"axis":{"values":[34,34.1,34.2],"format":".1f","title":null}}}},
{"data":{"name":"crowdLA"},"mark":{"type":"point","filled":true,"opacity":1,"stroke":"#222222","strokeWidth":0.9,"size":48},"encoding":{"x":{"field":"lon","type":"quantitative"},"y":{"field":"lat","type":"quantitative"},"fill":{"field":"t","type":"quantitative","scale":{"domain":[59.2,74.25,89.3],"range":["#00FF00","#CCA500","#FF0000"],"interpolate":"lab"},"legend":{"title":"Temp(deg F)","orient":"none","legendX":300,"legendY":51,"values":[60,70,80],"gradientLength":52.7,"gradientThickness":14.5,"direction":"vertical"}}}}
]},
{"width":285.4,"height":170,"title":{"text":"LA NOAA Data","fontSize":16.8},"layer":[
{"data":{"name":"minorXL"},"mark":{"type":"rule","color":"#EBEBEB","strokeWidth":0.6,"clip":true},"encoding":{"x":{"field":"lon","type":"quantitative"}}},
{"data":{"name":"minorYL"},"mark":{"type":"rule","color":"#EBEBEB","strokeWidth":0.6,"clip":true},"encoding":{"y":{"field":"lat","type":"quantitative"}}},
{"data":{"name":"coast"},"mark":{"type":"area","orient":"horizontal","color":"#000000","opacity":0.25,"clip":true},"encoding":{"x":{"field":"lon","type":"quantitative","scale":{"domain":[-118.5206,-118.08],"nice":false,"zero":false},"axis":{"values":[-118.5,-118.4,-118.3,-118.2,-118.1],"format":".1f","title":"(e)","titleX":168,"titleY":58}},"x2":{"datum":-112.5},"y":{"field":"lat","type":"quantitative","scale":{"domain":[33.9365,34.2635],"nice":false,"zero":false},"axis":{"values":[34,34.1,34.2],"format":".1f","title":null}}}},
{"data":{"name":"noaaLA"},"mark":{"type":"point","shape":"triangle-up","filled":true,"opacity":1,"stroke":"#333333","strokeWidth":0.7,"size":30},"encoding":{"x":{"field":"lon","type":"quantitative"},"y":{"field":"lat","type":"quantitative"},"fill":{"field":"t","type":"quantitative","scale":{"domain":[69,71],"range":["#C8A800","#C8A800"]},"legend":{"title":"Temp(deg F)","orient":"none","legendX":300,"legendY":51,"values":[70],"gradientLength":52.7,"gradientThickness":14.5,"direction":"vertical"}}}}
]}
]}
]}
]
}
